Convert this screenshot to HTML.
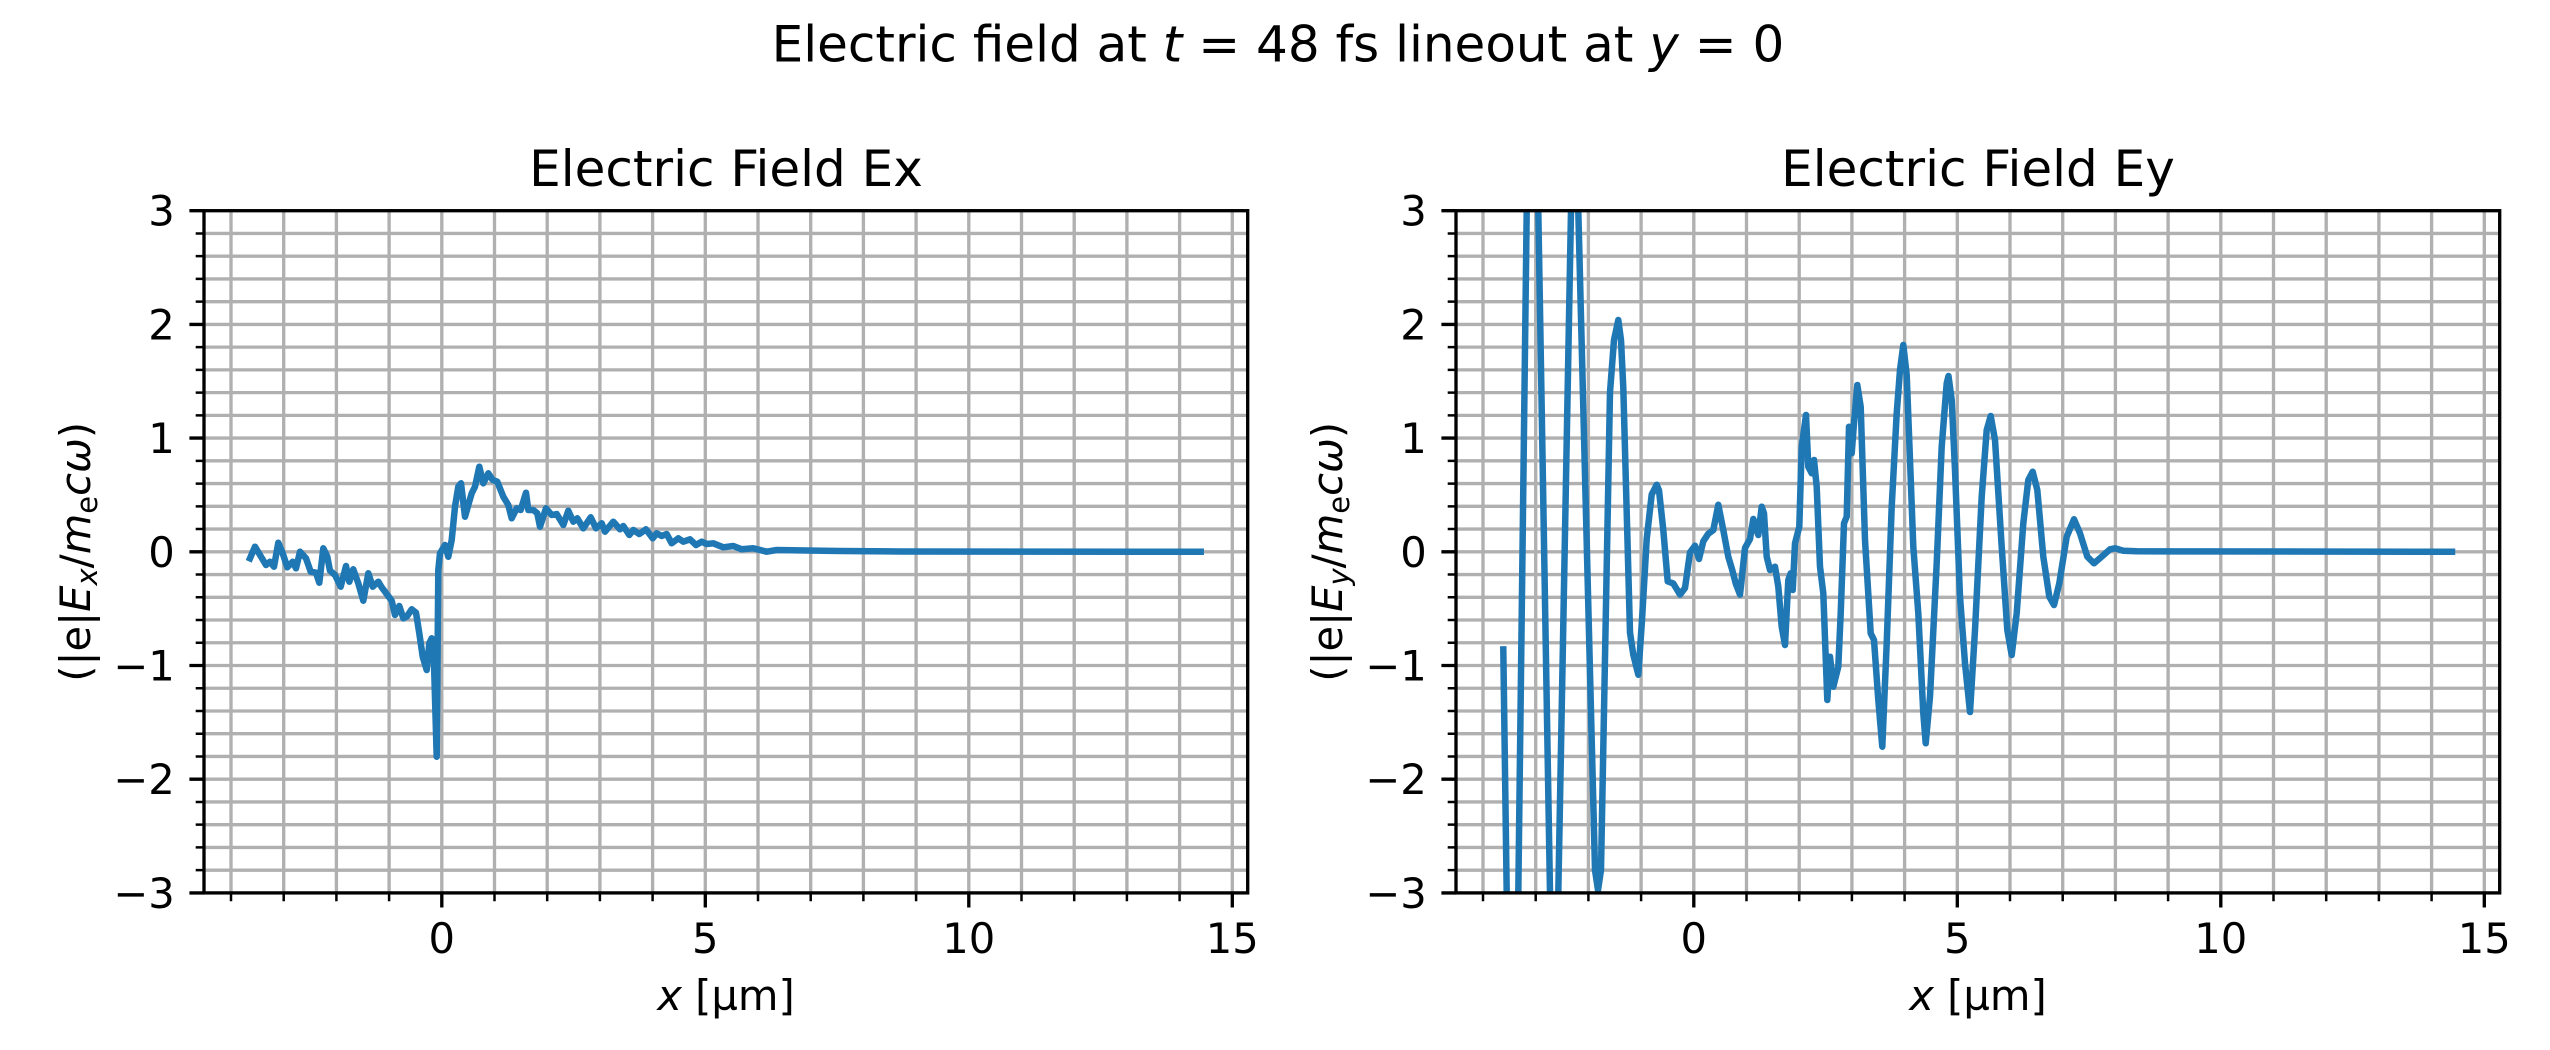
<!DOCTYPE html>
<html><head><meta charset="utf-8"><style>html,body{margin:0;padding:0;background:#fff;width:2550px;height:1050px;overflow:hidden;}svg{display:block}</style></head>
<body>
<svg width="2550" height="1050" viewBox="0 0 2550 1050" xmlns="http://www.w3.org/2000/svg" font-family="'DejaVu Sans','Liberation Sans',sans-serif">
<defs>
<clipPath id="clipL"><rect x="204" y="210.7" width="1043.7" height="682.2"/></clipPath>
<clipPath id="clipR"><rect x="1456" y="210.7" width="1043.7" height="682.2"/></clipPath>
</defs>
<rect width="2550" height="1050" fill="#fff"/>

<g id="frame" fill="none" stroke="#b0b0b0" stroke-width="3.33">
<path d="M231 210.7V892.9M283.7 210.7V892.9M336.4 210.7V892.9M389.1 210.7V892.9M441.8 210.7V892.9M494.5 210.7V892.9M547.2 210.7V892.9M599.9 210.7V892.9M652.6 210.7V892.9M705.3 210.7V892.9M758 210.7V892.9M810.7 210.7V892.9M863.4 210.7V892.9M916.1 210.7V892.9M968.8 210.7V892.9M1021.5 210.7V892.9M1074.2 210.7V892.9M1126.9 210.7V892.9M1179.6 210.7V892.9M1232.3 210.7V892.9"/>
<path d="M204 233.44H1247.7M204 256.18H1247.7M204 278.92H1247.7M204 301.66H1247.7M204 324.4H1247.7M204 347.14H1247.7M204 369.88H1247.7M204 392.62H1247.7M204 415.36H1247.7M204 438.1H1247.7M204 460.84H1247.7M204 483.58H1247.7M204 506.32H1247.7M204 529.06H1247.7M204 551.8H1247.7M204 574.54H1247.7M204 597.28H1247.7M204 620.02H1247.7M204 642.76H1247.7M204 665.5H1247.7M204 688.24H1247.7M204 710.98H1247.7M204 733.72H1247.7M204 756.46H1247.7M204 779.2H1247.7M204 801.94H1247.7M204 824.68H1247.7M204 847.42H1247.7M204 870.16H1247.7"/>
</g>
<use href="#frame" transform="translate(1252,0)"/>

<polyline clip-path="url(#clipL)" fill="none" stroke="#1f77b4" stroke-width="6.5" stroke-linejoin="round" stroke-linecap="square" points="250,558.3 255,546.7 260,555 266,565 270,561.7 274,566.7 278.3,542.7 282.7,553.3 287.3,567.3 292.7,561.7 296,568.3 300,551.7 306,558.3 310.7,571.7 316,572.7 319.3,582.7 323.3,548.3 327.3,556.7 330,570.7 335,575 340.7,586.7 346,566 349.3,581.7 353.3,569.3 358.3,583.3 363.3,600.7 368.3,573.3 372.7,586.7 378.3,581.7 381.7,587.3 386.7,594 391.7,600.7 395,615 399.3,606 403.3,618.3 406.7,616.7 411.7,609.3 416,612.7 419.3,633.3 422.7,656.7 426.7,670 429.3,643.3 431.7,638.3 434,663.3 436.7,756.7 438.3,570 440,553.3 445,545 448.3,556.7 451.7,540 455,506.7 458.3,486.7 461,483.3 465,516.7 468.3,505 471.7,493.3 475,486.7 479.3,466.7 483.3,483.3 488.3,473.3 492.7,480 497.3,481.7 503.3,496.7 508.3,505 511.7,518.3 516.7,508.3 520.7,510 526,492.7 528.3,510 533.3,510 537.3,513.3 540,526.7 546,508.3 551.7,515 556.7,514 563.3,525 568.3,510.7 573.3,521.7 577.3,518.3 583.3,528.3 590.7,517.3 596,528.3 601.7,523.3 605,531.7 613.3,521.7 620,529.3 623.3,526 629.3,535 633.3,530 639.3,534 646,529.3 652.7,538.3 656.7,533.3 661.7,536 666.7,534 671.7,543.3 678.3,538.3 683.3,541.7 690,539.3 696,545 701.7,541.7 706.7,544 713.3,543.3 723.3,547.3 733.3,546 741.7,549.3 753.3,548.3 766.7,551.7 776.7,550 806.7,550.5 840,551 900,551.5 1200.7,551.8"/>

<polyline clip-path="url(#clipR)" fill="none" stroke="#1f77b4" stroke-width="6.5" stroke-linejoin="round" stroke-linecap="square" points="1503.3,649.4 1506.7,892.7 1508,940 1512.5,950 1517,940 1518.3,892.7 1526.7,210.7 1528.5,160 1532.5,150 1536.5,160 1538.3,210.7 1550,892.7 1551.5,930 1554,940 1556.5,930 1558.3,892.7 1571,210.7 1572.5,170 1574.7,160 1577,170 1578.3,210.7 1595,870 1598,890 1601,870 1610,392.2 1614,340 1618.3,320 1621,340 1623.3,387.8 1630,632.5 1633.3,654.7 1638.3,674.7 1642,620 1646.7,539 1651.7,494.5 1656.7,484.8 1659,490.4 1663.3,530.1 1667.7,581.3 1673.3,583.5 1680,594.6 1685,588 1690,552.4 1695,545.7 1699,559 1703.3,541.3 1708.3,533.7 1713.3,530.1 1718.3,504.8 1723.3,530.1 1728.3,556.8 1732.3,570.2 1735.7,583.5 1740,594.6 1745,548 1750,539 1753.3,519 1758.3,535 1761.7,506.7 1764,513.3 1766.7,556.7 1770,570 1775,566.7 1778.3,586.7 1781.7,626.7 1785,645 1788.3,580 1790.7,573.3 1792.7,590 1795,543.3 1799.3,526.7 1801.7,446.7 1806,415 1808.3,466.7 1811.7,473.3 1814,460 1816.7,486.7 1820,566.7 1823.3,593.3 1827.3,700 1830,656.7 1833.3,686.7 1838.3,666.7 1840.7,613.3 1844,523.3 1846.7,516.7 1849,426.7 1851.7,453.3 1854,423.3 1857.3,385 1860.7,406.7 1865,540 1870.7,633.3 1874,640 1878.3,700 1882.3,746.7 1886.7,643.3 1891.7,506.7 1896.7,413.3 1900,370 1903.3,345 1906.7,375 1910,460 1913.3,546.7 1918.3,613.3 1923.3,713.3 1925.7,743.3 1930,696.7 1936.7,563.3 1941.7,446.7 1946.7,383.3 1948.5,376 1951.7,400 1955,470 1960,596.7 1965,663.3 1970,712 1975,630 1981.7,496.7 1986.7,430 1990.7,416 1995,440 2001.7,546.7 2007.3,630 2011.7,655 2016.7,613.3 2023.3,523.3 2028.3,480 2032.7,471.7 2037.3,490 2043.3,556.7 2049.3,596.7 2054,605 2059.3,583.3 2066.7,536.7 2074,519.3 2080,533.3 2087.3,556.7 2094,563.3 2101.7,556.7 2110,549.3 2115,548.3 2123.3,550.7 2136.7,551.3 2452,551.8"/>

<g id="axis" fill="none" stroke="#000">
<rect x="204" y="210.7" width="1043.7" height="682.2" stroke-width="3.33"/>
<path stroke-width="3.33" d="M189.4 210.7H204M189.4 324.4H204M189.4 438.1H204M189.4 551.8H204M189.4 665.5H204M189.4 779.2H204M189.4 892.9H204M441.8 892.9V907.5M705.3 892.9V907.5M968.8 892.9V907.5M1232.3 892.9V907.5"/>
<path stroke-width="2.5" d="M195.7 233.44H204M195.7 256.18H204M195.7 278.92H204M195.7 301.66H204M195.7 347.14H204M195.7 369.88H204M195.7 392.62H204M195.7 415.36H204M195.7 460.84H204M195.7 483.58H204M195.7 506.32H204M195.7 529.06H204M195.7 574.54H204M195.7 597.28H204M195.7 620.02H204M195.7 642.76H204M195.7 688.24H204M195.7 710.98H204M195.7 733.72H204M195.7 756.46H204M195.7 801.94H204M195.7 824.68H204M195.7 847.42H204M195.7 870.16H204M231 892.9V901.2M283.7 892.9V901.2M336.4 892.9V901.2M389.1 892.9V901.2M494.5 892.9V901.2M547.2 892.9V901.2M599.9 892.9V901.2M652.6 892.9V901.2M758 892.9V901.2M810.7 892.9V901.2M863.4 892.9V901.2M916.1 892.9V901.2M1021.5 892.9V901.2M1074.2 892.9V901.2M1126.9 892.9V901.2M1179.6 892.9V901.2"/>
</g>
<use href="#axis" transform="translate(1252,0)"/>

<g fill="#000" font-size="41.67">
<g text-anchor="end">
<text x="174.8" y="225.7">3</text>
<text x="174.8" y="339.4">2</text>
<text x="174.8" y="453.1">1</text>
<text x="174.8" y="566.8">0</text>
<text x="174.8" y="680.5">−1</text>
<text x="174.8" y="794.2">−2</text>
<text x="174.8" y="907.9">−3</text>
<text x="1426.8" y="225.7">3</text>
<text x="1426.8" y="339.4">2</text>
<text x="1426.8" y="453.1">1</text>
<text x="1426.8" y="566.8">0</text>
<text x="1426.8" y="680.5">−1</text>
<text x="1426.8" y="794.2">−2</text>
<text x="1426.8" y="907.9">−3</text>
</g>
<g text-anchor="middle">
<text x="441.8" y="953">0</text>
<text x="705.3" y="953">5</text>
<text x="968.8" y="953">10</text>
<text x="1232.3" y="953">15</text>
<text x="1693.8" y="953">0</text>
<text x="1957.3" y="953">5</text>
<text x="2220.8" y="953">10</text>
<text x="2484.3" y="953">15</text>
<text x="726" y="1010"><tspan font-style="italic">x</tspan> [µm]</text>
<text x="1978" y="1010"><tspan font-style="italic">x</tspan> [µm]</text>
<text transform="translate(90,551.8) rotate(-90)">(|e|<tspan font-style="italic">E</tspan><tspan font-style="italic" font-size="29" dy="7">x</tspan><tspan dy="-7">/</tspan><tspan font-style="italic">m</tspan><tspan font-size="29" dy="7">e</tspan><tspan font-style="italic" dy="-7">cω</tspan>)</text>
<text transform="translate(1342,551.8) rotate(-90)">(|e|<tspan font-style="italic">E</tspan><tspan font-style="italic" font-size="29" dy="7">y</tspan><tspan dy="-7">/</tspan><tspan font-style="italic">m</tspan><tspan font-size="29" dy="7">e</tspan><tspan font-style="italic" dy="-7">cω</tspan>)</text>
</g>
</g>

<g fill="#000" font-size="50" text-anchor="middle">
<text x="1278" y="61.7">Electric field at <tspan font-style="italic">t</tspan> = 48 fs lineout at <tspan font-style="italic">y</tspan> = 0</text>
<text x="726" y="186">Electric Field Ex</text>
<text x="1978" y="186">Electric Field Ey</text>
</g>
</svg>
</body></html>
